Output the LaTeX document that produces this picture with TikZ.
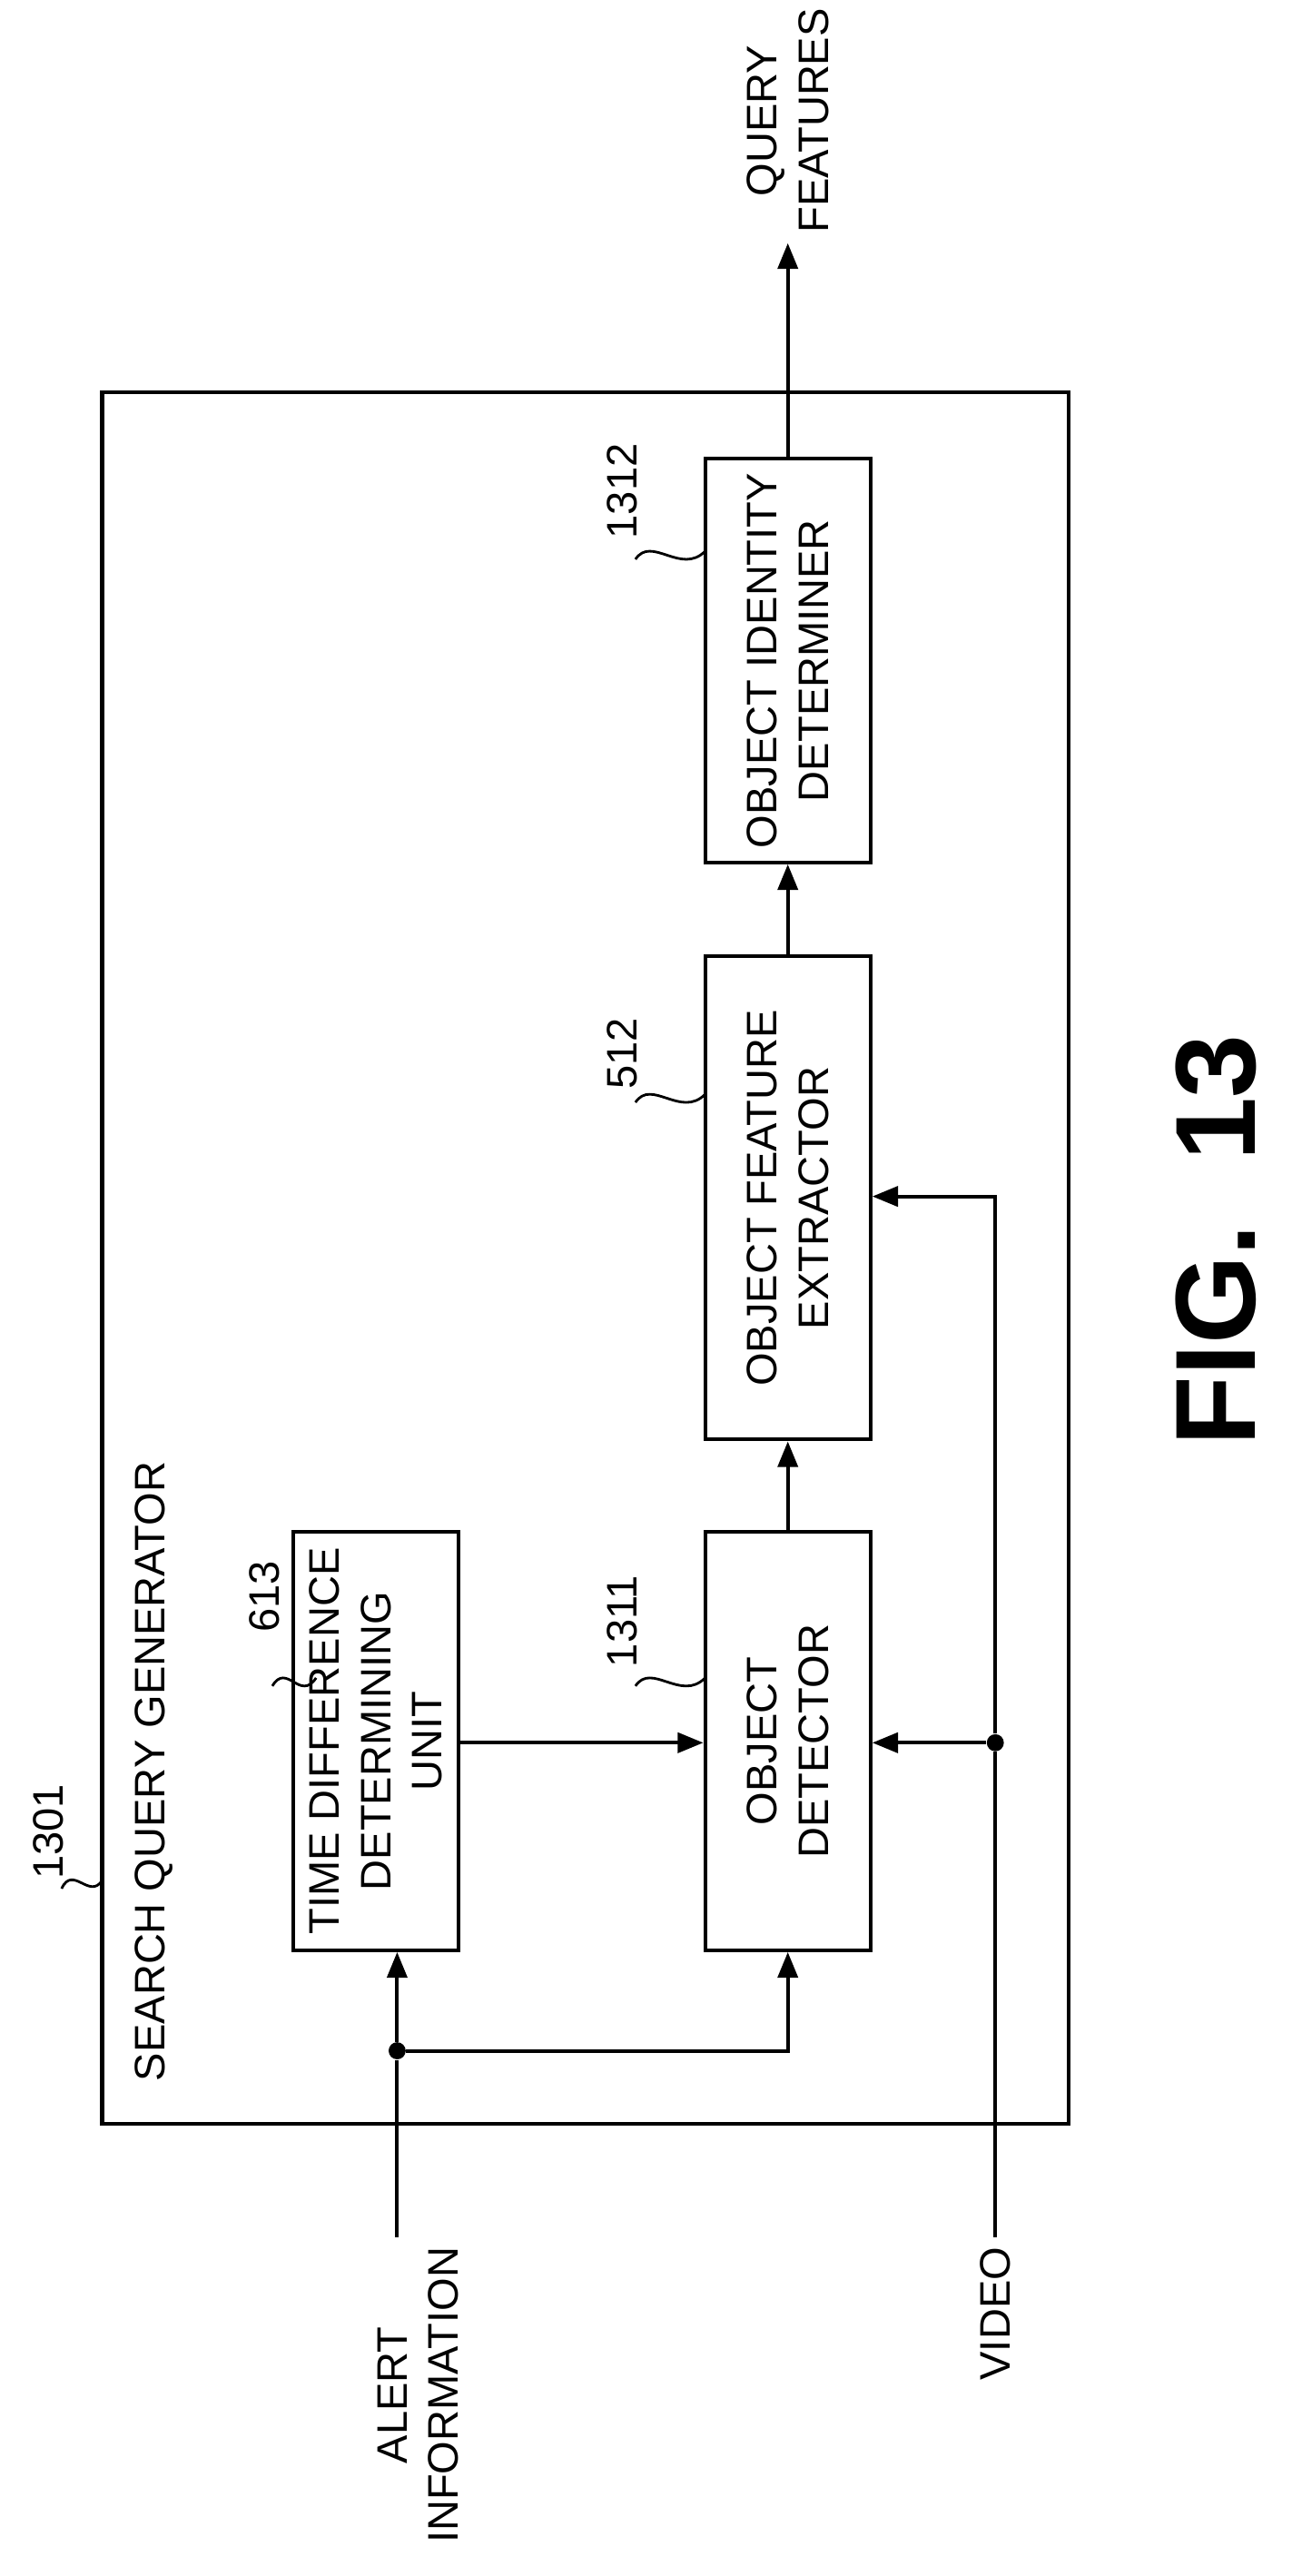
\documentclass[tikz,border=0pt]{standalone}
\usepackage{fontspec}
\setmainfont{Liberation Sans}
\usetikzlibrary{positioning,arrows.meta}
\begin{document}
\begin{tikzpicture}[
    x=0.02cm, y=-0.02cm,
    >={Triangle[length=9pt,width=7pt]},
    blk/.style={draw, line width=1.3pt, minimum width=2.04cm, align=center,
        font=\fontsize{15}{18}\selectfont, inner sep=2pt},
    lbl/.style={rotate=90, font=\fontsize{15}{18}\selectfont, align=center},
    pil/.style={->, line width=1.3pt},
    lead/.style={line width=0.9pt},
    dot/.style={circle, fill, inner sep=0pt, minimum size=6pt}
]
\useasboundingbox (0,0) rectangle (797,1589);

% outer box
\draw[line width=1.3pt] (63,242) rectangle (659,1310);
\node[lbl, anchor=south west] (sqg) at (113,1290) {SEARCH QUERY GENERATOR};

% blocks
\node[blk, rotate=90, minimum height=2.04cm, minimum width=5.16cm] (tdu) at (232,1074)
    {TIME DIFFERENCE\\DETERMINING\\UNIT};
\node[blk, rotate=90, minimum height=2.04cm, minimum width=5.16cm] (det) at (486,1074)
    {OBJECT\\DETECTOR};
\node[blk, rotate=90, minimum height=2.04cm, minimum width=5.96cm] (ext) at (486,739)
    {OBJECT FEATURE\\EXTRACTOR};
\node[blk, rotate=90, minimum height=2.04cm, minimum width=4.98cm] (oid) at (486,407.5)
    {OBJECT IDENTITY\\DETERMINER};

% reference numerals
\node[lbl] (n1301) at (30,1130) {1301};
\draw[lead] (38,1165) .. controls (45,1150) and (55,1172) .. (63,1160);
\node[lbl] (n613) at (163,985) {613};
\draw[lead] (168,1040) .. controls (177,1025) and (185,1050) .. (195,1035);
\node[lbl] (n1311) at (384,1000) {1311};
\draw[lead] (392,1040) .. controls (402,1025) and (420,1050) .. (435,1035);
\node[lbl] (n512) at (384,650) {512};
\draw[lead] (392,680) .. controls (402,665) and (420,690) .. (435,675);
\node[lbl] (n1312) at (384,303) {1312};
\draw[lead] (392,345) .. controls (402,330) and (420,355) .. (435,340);

% inputs and outputs
\node[lbl, anchor=east] (alert) at (258,1380) {ALERT\\INFORMATION};
\node[lbl, anchor=east] (video) at (614,1380) {VIDEO};
\node[lbl, anchor=west] (qf) at (486,150) {QUERY\\FEATURES};
\coordinate (a0) at (245,1380);
\coordinate (v0) at (614,1380);
\node[dot] (ja) at (245,1265) {};
\node[dot] (jv) at (614,1075) {};

% connectors (rotated nodes: west = bottom, east = top, north = left, south = right)
\draw[line width=1.3pt] (a0) -- (ja);
\draw[pil] (ja) -- (ja |- tdu.west);
\draw[pil] (ja) -| (det.west);
\draw[line width=1.3pt] (v0) -- (jv);
\draw[pil] (jv) -- (det.south |- jv);
\draw[pil] (jv) |- (ext.south |- 0,738);
\draw[pil] (tdu.south |- 0,1075) -- (det.north |- 0,1075);
\draw[pil] (det.east) -- (ext.west);
\draw[pil] (ext.east) -- (oid.west);
\draw[pil] (oid.east) -- (qf.west);

% figure title
\node[rotate=90, font=\bfseries\fontsize{40}{48}\selectfont] (fig) at (750,765) {FIG.\ \ 13};
\end{tikzpicture}
\end{document}
